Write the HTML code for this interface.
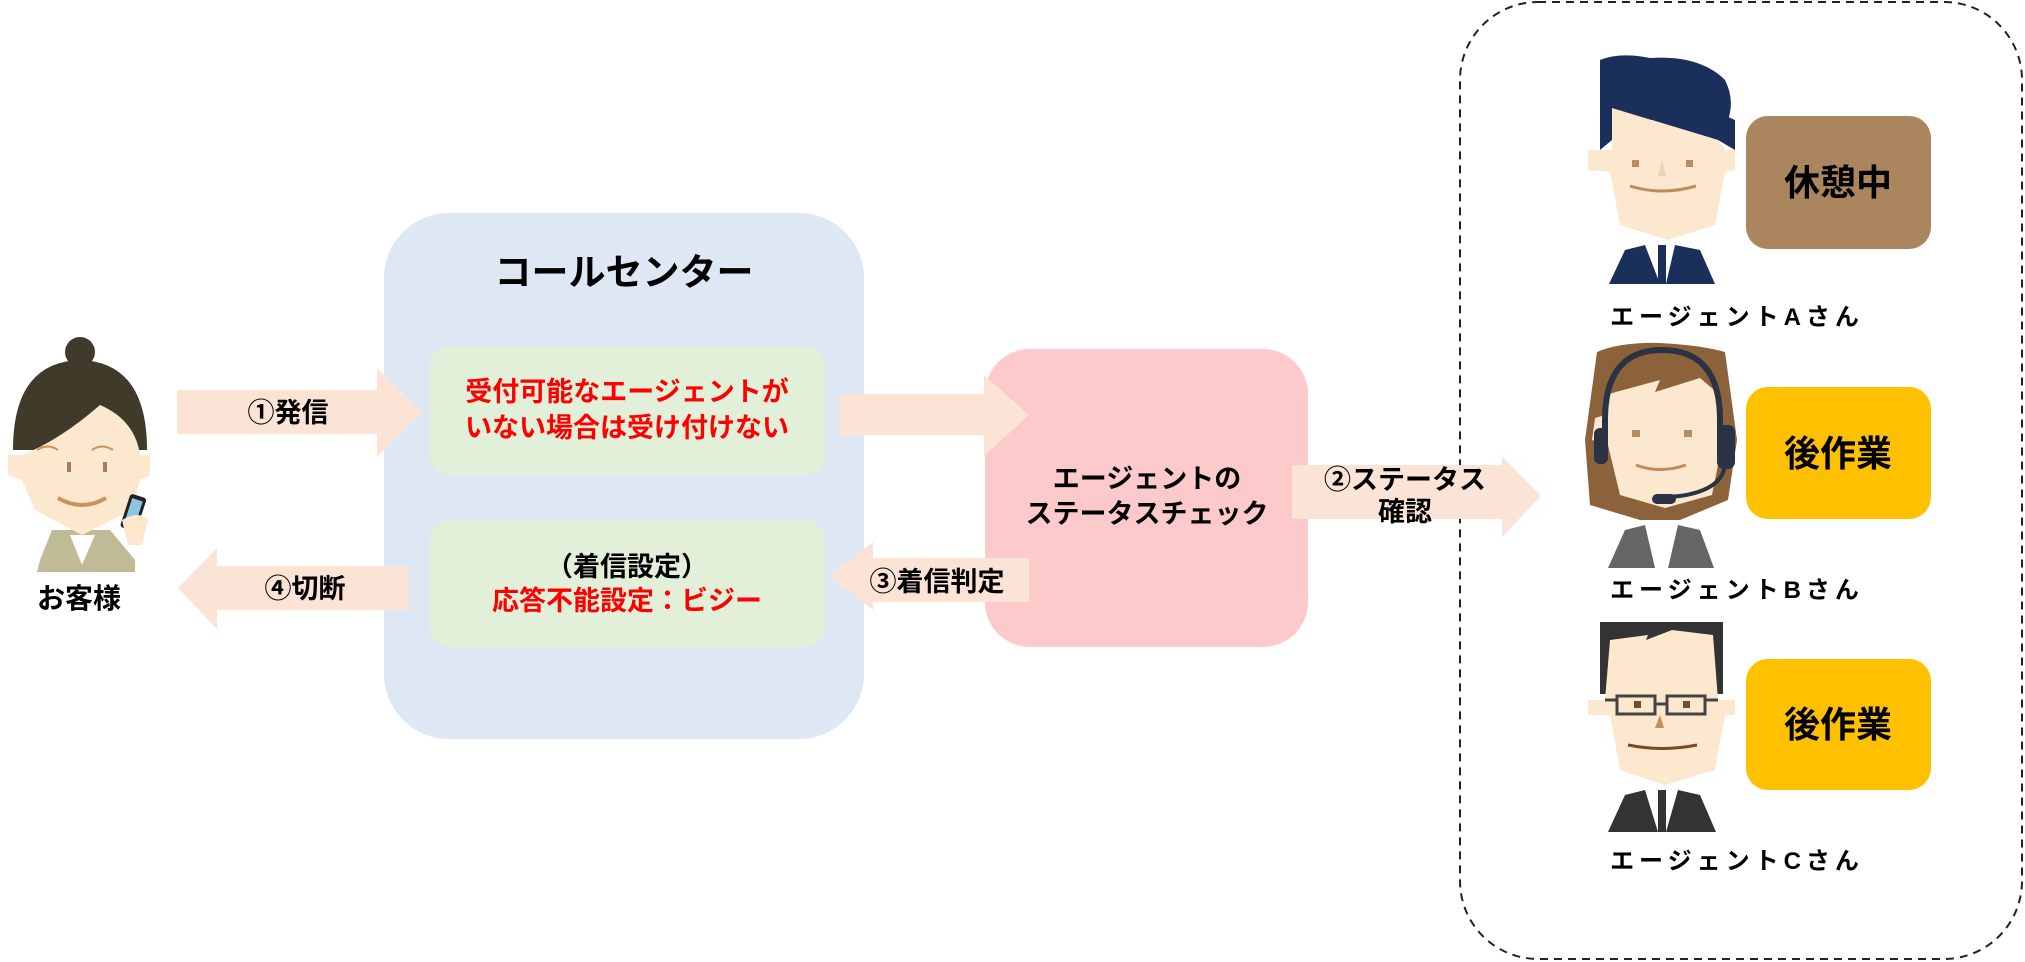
<!DOCTYPE html>
<html><head><meta charset="utf-8"><style>
html,body{margin:0;padding:0;background:#fff;}
svg{display:block;}
text{font-family:"Liberation Sans","Noto Sans CJK JP",sans-serif;font-weight:bold;}
</style></head><body>
<svg width="2025" height="962" viewBox="0 0 2025 962" xmlns="http://www.w3.org/2000/svg">
<rect x="1460" y="2" width="562" height="957" rx="78" fill="none" stroke="#222" stroke-width="2" stroke-dasharray="8,6"/>
<rect x="384" y="213" width="480" height="526" rx="65" fill="#dde8f4"/>
<text x="624" y="285" font-size="37" text-anchor="middle" fill="#000">コールセンター</text>
<rect x="430" y="346" width="395" height="129" rx="20" fill="#e2efd9"/>
<text x="627" y="401" font-size="27" text-anchor="middle" fill="#ff0000">受付可能なエージェントが</text>
<text x="627" y="437" font-size="27" text-anchor="middle" fill="#ff0000">いない場合は受け付けない</text>
<rect x="430" y="520" width="395" height="127" rx="20" fill="#e2efd9"/>
<text x="627" y="576" font-size="27" text-anchor="middle" fill="#000">（着信設定）</text>
<text x="627" y="610" font-size="27" text-anchor="middle" fill="#ff0000">応答不能設定：ビジー</text>
<rect x="985" y="349" width="323" height="298" rx="45" fill="#fccaca"/>
<text x="1147" y="488" font-size="27" text-anchor="middle" fill="#000">エージェントの</text>
<text x="1147" y="523" font-size="27" text-anchor="middle" fill="#000">ステータスチェック</text>
<g fill="#fbe4d6">
<polygon points="177,390 377,390 377,368 422,412 377,457 377,434 177,434"/>
<polygon points="839,394 984,394 984,375 1029,415 984,456 984,435 839,435"/>
<polygon points="1029,558 873,558 873,542 828,576 873,610 873,602 1029,602"/>
<polygon points="409,566 217,566 217,548 178,588 217,629 217,610 409,610"/>
<polygon points="1292,465 1502,465 1502,456 1541,496 1502,537 1502,519 1292,519"/>
</g>
<text x="288" y="422" font-size="27" text-anchor="middle" fill="#000">①発信</text>
<text x="937" y="591" font-size="27" text-anchor="middle" fill="#000">③着信判定</text>
<text x="305" y="598" font-size="27" text-anchor="middle" fill="#000">④切断</text>
<text x="1405" y="489" font-size="27" text-anchor="middle" fill="#000">②ステータス</text>
<text x="1405" y="521" font-size="27" text-anchor="middle" fill="#000">確認</text>
<g>
<circle cx="80" cy="352" r="15" fill="#3f3a2a"/>
<path d="M13,450 Q13,362 80,360 Q147,362 147,450 Z" fill="#3f3a2a"/>
<path d="M40,560 L52,530 L110,530 L135,560 L135,572 L37,572 Z" fill="#c0bb97"/>
<polygon points="70,535 95,535 82,565" fill="#fff"/>
<path d="M8,455 L22,455 Q60,440 100,405 Q135,420 140,455 L150,455 L150,475 L140,480 L132,510 L82,535 L35,510 L22,480 L8,475 Z" fill="#fce8cf"/>
<rect x="67" y="462" width="4" height="10" fill="#a67d55"/>
<rect x="103" y="462" width="4" height="10" fill="#a67d55"/>
<path d="M58,498 Q82,512 106,498" stroke="#c7955c" stroke-width="4" fill="none"/>
<path d="M37,450 Q48,443 58,450 M92,450 Q102,443 113,450" stroke="#c7955c" stroke-width="2" fill="none"/>
<rect x="125" y="495" width="17" height="35" rx="3" fill="#222" transform="rotate(18 133 512)"/>
<rect x="128" y="499" width="11" height="26" fill="#8ec4e0" transform="rotate(18 133 512)"/>
<path d="M122,520 Q140,510 148,520 L142,545 L128,545 Z" fill="#fce8cf"/>
</g>
<text x="79" y="608" font-size="28" text-anchor="middle" fill="#000">お客様</text>
<g>
<path d="M1600,60 Q1620,52 1650,58 Q1700,55 1725,80 Q1735,100 1728,120 L1600,120 Z" fill="#1a2f5a"/>
<path d="M1600,60 L1600,150 L1612,140 L1612,108 L1718,140 L1735,150 L1735,120 Z" fill="#1a2f5a"/>
<path d="M1612,108 L1718,140 L1725,150 L1735,150 L1735,170 L1725,172 L1715,225 L1668,240 L1620,225 L1610,172 L1588,170 L1588,150 L1612,150 Z" fill="#fce8cf"/>
<rect x="1632" y="160" width="7" height="7" fill="#b38d66"/>
<rect x="1686" y="160" width="7" height="7" fill="#b38d66"/>
<polygon points="1662,160 1666,176 1658,176" fill="#ead2b6"/>
<path d="M1630,186 Q1662,196 1696,186" stroke="#c08b5c" stroke-width="3" fill="none"/>
<path d="M1609,284 L1625,250 L1645,245 L1660,284 Z M1666,284 L1675,245 L1700,250 L1715,284 Z" fill="#1a2f5a"/>
<rect x="1658" y="245" width="8" height="39" fill="#1a2f5a"/>
</g>
<rect x="1746" y="116" width="185" height="133" rx="22" fill="#ab855d"/>
<text x="1838" y="195" font-size="36" text-anchor="middle" fill="#000">休憩中</text>
<text x="1737" y="325" font-size="24" text-anchor="middle" fill="#000" letter-spacing="5">エージェントAさん</text>
<g>
<path d="M1597,352 Q1620,342 1660,343 Q1700,345 1725,352 L1737,440 L1728,500 L1680,520 L1640,520 L1590,505 L1585,440 Z" fill="#8b6239"/>
<path d="M1605,395 L1660,380 L1655,392 L1700,378 L1720,395 L1722,445 L1712,495 L1665,508 L1620,495 L1608,445 L1592,440 L1595,418 L1605,415 Z" fill="#fce8cf"/>
<rect x="1632" y="430" width="8" height="7" fill="#b38d66"/>
<rect x="1684" y="430" width="8" height="7" fill="#b38d66"/>
<path d="M1636,465 Q1660,474 1686,465" stroke="#c08b5c" stroke-width="3" fill="none"/>
<path d="M1605,450 L1605,420 Q1605,350 1662,350 Q1720,350 1720,420 L1720,450" stroke="#2b3243" stroke-width="6" fill="none"/>
<rect x="1594" y="428" width="14" height="36" rx="6" fill="#2b3243"/>
<rect x="1717" y="425" width="18" height="44" rx="7" fill="#2b3243"/>
<path d="M1725,465 Q1722,490 1680,496 L1655,498" stroke="#2b3243" stroke-width="4" fill="none"/>
<rect x="1652" y="494" width="24" height="10" rx="5" fill="#2b3243"/>
<path d="M1608,568 L1625,530 L1645,525 L1655,568 Z M1668,568 L1678,525 L1700,530 L1714,568 Z" fill="#666"/>
</g>
<rect x="1746" y="387" width="185" height="132" rx="22" fill="#ffc000"/>
<text x="1838" y="466" font-size="36" text-anchor="middle" fill="#000">後作業</text>
<text x="1737" y="598" font-size="24" text-anchor="middle" fill="#000" letter-spacing="5">エージェントBさん</text>
<g>
<rect x="1600" y="622" width="123" height="72" fill="#333"/>
<path d="M1610,640 L1648,635 L1646,640 L1672,630 L1713,635 L1718,700 L1735,700 L1735,715 L1725,715 L1715,770 L1665,785 L1620,770 L1610,715 L1588,715 L1588,700 L1605,700 Z" fill="#fce8cf"/>
<rect x="1617" y="696" width="38" height="18" fill="none" stroke="#444" stroke-width="3"/>
<rect x="1667" y="696" width="38" height="18" fill="none" stroke="#444" stroke-width="3"/>
<line x1="1655" y1="704" x2="1667" y2="704" stroke="#444" stroke-width="3"/>
<line x1="1605" y1="700" x2="1617" y2="700" stroke="#444" stroke-width="3"/>
<line x1="1705" y1="700" x2="1718" y2="700" stroke="#444" stroke-width="3"/>
<rect x="1634" y="701" width="7" height="7" fill="#7a4b22"/>
<rect x="1683" y="701" width="7" height="7" fill="#7a4b22"/>
<polygon points="1660,715 1664,728 1655,728" fill="#c2905f"/>
<path d="M1628,745 Q1662,752 1697,745" stroke="#7a4b22" stroke-width="3" fill="none"/>
<path d="M1608,832 L1625,795 L1645,790 L1658,832 Z M1666,832 L1678,790 L1700,795 L1716,832 Z" fill="#333"/>
<rect x="1658" y="790" width="8" height="42" fill="#333"/>
</g>
<rect x="1746" y="659" width="185" height="131" rx="22" fill="#ffc000"/>
<text x="1838" y="737" font-size="36" text-anchor="middle" fill="#000">後作業</text>
<text x="1737" y="869" font-size="24" text-anchor="middle" fill="#000" letter-spacing="5">エージェントCさん</text>
</svg>
</body></html>
